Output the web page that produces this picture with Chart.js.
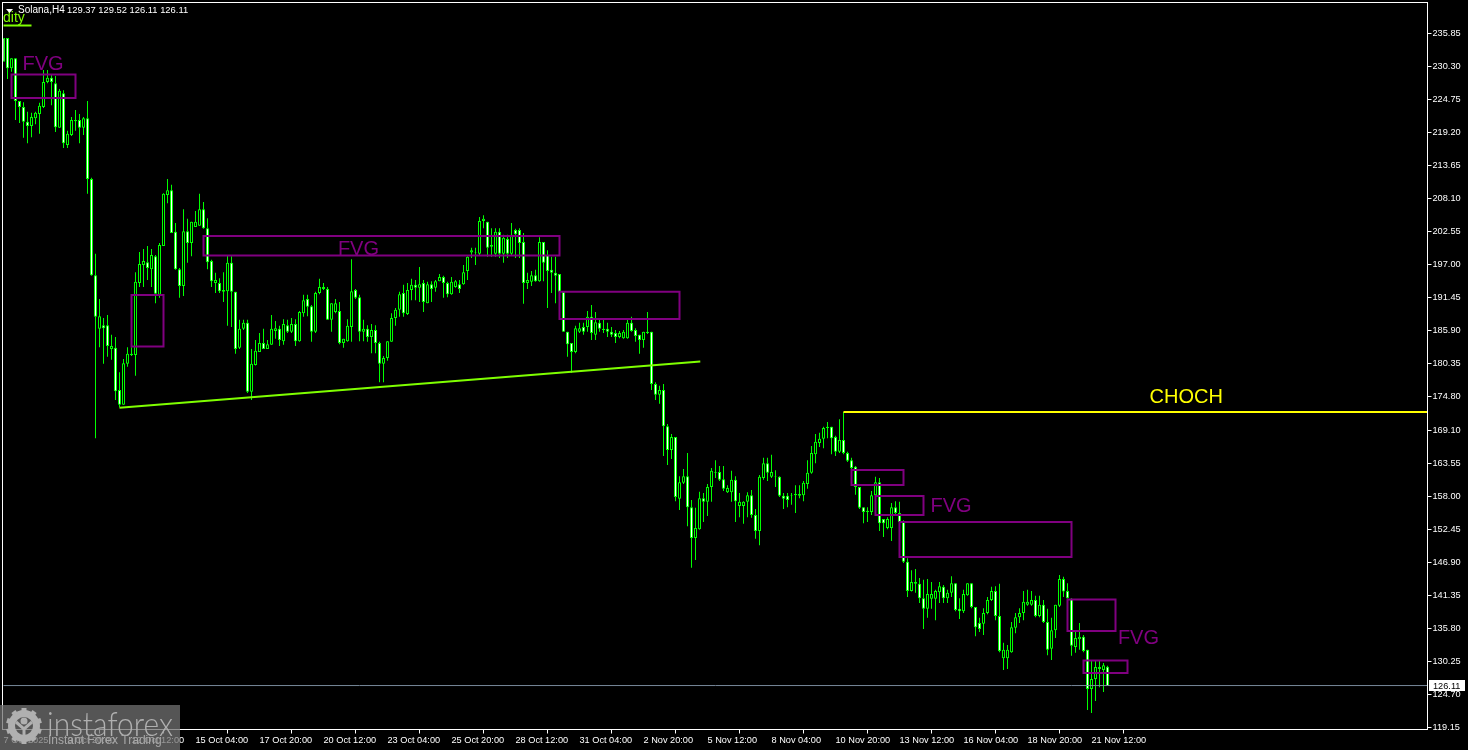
<!DOCTYPE html>
<html>
<head>
<meta charset="utf-8">
<title>Solana,H4</title>
<script src="https://cdn.jsdelivr.net/npm/chart.js@4/dist/chart.umd.min.js"></script>
<style>
  html, body { margin: 0; padding: 0; background: #000; }
  #wrap { width: 1468px; height: 750px; position: relative; }
  canvas { display: block; }
</style>
</head>
<body>
<div id="wrap"><canvas id="c-solana"></canvas></div>
<script>
// Velas H4, una por barra (4 px de paso en el eje)
const opens = [
235.1,235.1,230.0,231.7,224.5,223.5,221.0,220.3,221.6,222.3,
223.5,227.7,228.4,227.5,220.0,225.8,217.1,218.8,221.1,221.3,
220.0,221.6,211.4,195.2,186.2,186.8,186.8,182.8,183.0,175.9,
173.4,180.3,181.8,181.8,193.9,196.9,197.4,196.2,198.4,191.9,
200.1,208.7,209.5,202.5,196.2,193.4,202.6,200.6,203.3,203.5,
206.3,203.1,197.6,193.9,193.9,192.4,192.5,197.3,192.4,183.0,
186.2,187.2,175.6,180.1,182.3,183.8,182.8,183.5,185.8,186.2,
184.1,186.8,185.7,187.0,184.1,188.8,191.2,190.0,185.7,192.2,
193.2,192.9,187.7,189.0,189.2,183.8,184.1,186.5,192.7,191.5,
185.7,186.2,184.8,186.0,183.8,180.3,181.3,184.0,188.0,189.4,
192.2,188.7,192.7,193.6,193.1,193.9,190.5,193.7,193.1,194.2,
194.9,193.9,192.0,193.2,193.7,193.7,195.9,199.0,199.1,198.8,
204.3,204.2,200.0,198.8,202.5,198.8,201.3,198.8,202.8,202.8,
200.8,193.9,194.1,195.2,194.2,200.8,198.6,196.1,195.6,195.4,
192.4,185.7,183.8,182.3,185.7,186.5,186.5,188.2,185.2,187.2,
186.2,186.2,185.7,185.5,184.8,184.6,184.6,187.2,186.0,185.2,
184.3,185.5,185.7,176.9,175.1,175.9,169.8,165.8,168.0,157.6,
160.3,161.4,156.2,151.0,152.5,157.7,157.1,159.6,162.0,162.1,
160.9,158.7,158.7,160.8,156.4,156.4,157.1,158.2,154.9,152.2,
161.1,163.6,161.3,161.4,161.3,158.1,158.1,158.2,158.4,158.1,
158.2,160.1,162.0,165.1,167.0,167.7,169.5,169.7,168.0,165.5,
167.5,165.3,164.1,163.0,159.6,156.2,155.6,155.4,158.2,160.4,
154.2,152.7,152.7,156.2,155.2,153.7,147.0,142.1,143.6,143.3,
140.9,139.1,140.8,140.8,141.9,142.8,140.9,141.8,143.4,139.1,
138.7,141.4,143.4,139.4,136.7,136.6,138.4,140.6,142.1,137.9,
130.8,130.8,131.8,135.9,137.7,138.4,139.8,139.8,140.6,137.9,
139.8,136.9,132.4,135.5,139.6,144.1,142.1,140.8,132.7,134.0,
134.4,132.2,125.6,127.3,129.0,128.8,129.37
];
const highs = [
235.1,235.1,231.7,231.7,224.5,224.3,222.7,222.5,222.7,224.2,
229.7,229.7,228.9,228.7,226.5,226.3,219.5,221.8,223.0,222.3,
221.8,224.5,211.6,198.8,191.2,188.0,188.5,185.2,184.8,178.9,
181.1,183.1,183.1,195.7,199.1,199.6,200.1,199.6,198.6,200.6,
209.0,211.4,210.4,204.0,196.4,206.3,204.7,204.2,206.0,208.9,
207.5,204.8,197.8,195.6,194.7,195.7,198.6,198.4,192.4,187.7,
187.7,187.7,182.8,184.3,185.5,186.2,184.3,188.5,187.5,186.7,
187.8,187.7,188.0,187.8,189.2,191.9,191.9,190.2,192.4,194.6,
193.9,193.2,190.5,191.2,190.7,184.5,187.8,197.9,192.9,191.9,
187.7,186.8,187.0,186.8,184.0,181.6,184.1,188.8,189.7,192.4,
193.6,193.9,194.6,194.4,196.6,194.4,194.1,194.2,194.4,195.4,
195.1,194.1,194.9,194.4,194.4,196.9,198.4,199.8,199.8,205.0,
205.3,204.2,203.1,203.1,203.1,202.0,202.0,204.0,203.0,203.1,
202.3,195.6,195.9,196.1,201.6,200.8,199.4,198.3,198.3,195.4,
192.4,185.7,183.8,186.7,187.2,187.2,189.2,190.2,189.0,188.0,
187.7,187.2,186.5,186.0,185.8,186.0,187.7,188.2,186.3,185.2,
185.7,189.0,185.7,177.2,176.6,176.9,170.2,168.5,168.0,161.4,
162.6,165.3,157.4,156.1,158.8,158.6,160.1,162.8,164.1,163.1,
163.1,159.9,162.3,161.4,158.6,157.2,158.7,159.1,155.9,161.6,
164.5,164.5,165.0,162.4,161.4,158.6,158.6,158.6,159.9,159.9,
160.6,164.1,166.5,168.5,168.7,169.7,170.5,169.7,168.2,171.0,
172.2,165.5,164.5,163.1,159.6,156.2,156.2,158.9,161.3,161.1,
154.2,154.5,156.9,157.2,157.1,154.0,147.6,145.6,145.8,144.3,
144.0,144.1,143.6,142.3,143.6,143.1,142.3,144.6,143.4,140.9,
142.3,143.4,143.4,139.4,137.6,139.2,141.1,142.8,142.9,143.3,
133.4,133.0,136.9,138.4,139.2,142.1,142.3,142.1,141.3,141.3,
140.6,139.1,137.6,139.8,144.8,144.5,143.4,140.9,135.2,136.7,
134.7,132.2,130.5,130.4,130.4,130.0,129.52
];
const lows = [
231.1,228.2,229.4,221.3,220.8,218.3,217.4,218.4,220.6,219.0,
223.3,227.5,223.8,219.3,220.0,216.6,216.6,218.6,219.5,217.4,
218.8,208.9,195.1,167.8,183.1,180.3,181.5,181.0,174.2,173.0,
173.4,179.8,181.6,178.3,193.2,193.2,194.4,193.2,190.5,191.4,
200.1,207.3,202.3,196.1,191.4,191.7,197.3,198.4,203.3,203.5,
203.0,196.2,193.2,192.2,192.2,190.7,186.7,186.5,182.0,182.8,
186.0,175.4,174.2,180.0,182.3,182.8,182.8,183.5,184.5,183.3,
183.5,185.5,185.5,183.3,184.0,188.2,188.3,184.0,185.5,192.0,
192.7,187.7,185.7,188.8,183.6,183.0,184.0,184.0,191.2,184.1,
184.1,184.0,182.1,182.1,177.2,177.2,180.8,184.0,186.7,188.2,
188.2,188.5,191.0,191.0,190.7,189.0,190.5,190.7,192.4,194.2,
191.4,191.5,191.9,193.1,192.2,193.6,194.4,198.1,196.9,198.6,
203.1,198.3,198.3,198.3,198.1,197.3,198.1,198.6,198.1,198.1,
190.4,192.9,193.4,194.1,194.1,194.2,189.7,192.2,190.5,192.2,
185.7,181.5,178.8,182.1,185.5,185.2,185.7,184.3,184.3,185.7,
185.5,184.8,184.8,183.8,184.6,184.5,184.5,185.7,184.0,182.0,
183.0,185.3,175.9,174.2,173.6,164.8,163.3,164.3,157.2,155.7,
160.1,153.0,146.0,147.3,152.4,153.7,154.7,157.1,161.1,160.6,
158.9,158.6,157.1,153.7,154.5,153.4,154.5,154.4,150.9,149.8,
160.8,160.6,161.1,159.6,157.9,155.9,156.2,156.6,155.2,157.7,
157.2,159.3,161.8,163.6,166.3,166.1,167.8,165.1,164.8,165.3,
165.1,163.8,162.6,158.3,155.9,153.5,153.7,154.9,158.1,152.2,
151.2,152.5,150.5,154.9,153.5,146.8,141.1,142.0,141.8,140.1,
135.7,137.6,139.1,137.2,140.1,140.1,140.1,141.1,138.7,137.4,
138.4,141.3,139.2,134.5,135.2,134.7,138.2,140.4,137.2,131.8,
128.8,129.0,131.7,135.0,136.7,137.2,139.6,139.6,137.7,137.7,
136.7,131.3,130.5,134.2,139.4,141.1,140.8,131.2,131.7,132.2,
131.8,122.1,121.6,123.6,125.9,125.1,126.11
];
const closes = [
231.1,230.0,231.7,224.5,223.5,221.0,220.3,221.8,222.5,223.7,
227.7,228.4,227.7,220.1,226.2,217.4,219.0,221.3,221.3,220.0,
221.6,211.4,195.2,188.2,188.3,186.3,183.3,183.3,175.7,173.4,
180.4,182.0,182.0,194.1,197.1,197.6,196.4,198.6,192.1,200.3,
208.9,209.5,202.3,196.2,193.4,202.6,200.6,204.2,204.2,206.3,
203.1,197.4,194.2,194.4,192.5,192.7,197.3,192.4,182.8,186.2,
187.2,175.6,180.3,182.5,183.8,182.8,183.6,186.2,186.3,184.3,
187.0,185.7,187.0,184.1,189.0,191.0,189.9,185.7,192.2,193.2,
192.9,187.7,190.5,190.5,183.8,184.5,186.7,192.5,191.4,185.7,
186.2,184.8,186.0,183.8,180.3,181.3,184.1,188.0,189.4,192.0,
188.8,192.7,193.6,193.1,193.7,190.7,193.7,192.9,194.2,194.9,
193.9,192.0,194.1,194.2,192.9,195.7,198.3,199.4,199.0,204.3,
204.7,199.8,200.3,202.5,198.8,201.5,198.8,202.0,202.1,200.6,
193.9,194.4,195.2,194.2,200.8,197.3,195.9,195.6,195.1,192.4,
185.7,183.6,182.3,186.3,186.3,185.7,188.2,185.5,187.3,186.2,
186.0,185.7,185.2,184.8,185.5,185.7,187.2,185.8,185.0,184.3,
185.7,185.7,176.9,175.1,175.9,169.8,165.8,168.0,157.9,160.4,
161.4,156.2,151.0,152.7,157.7,157.1,159.6,162.3,162.1,160.8,
159.3,159.4,160.8,157.2,157.1,157.1,158.2,154.9,152.2,161.3,
163.6,162.0,162.1,161.3,158.1,157.6,157.4,158.1,158.2,158.4,
160.3,162.0,165.3,167.2,167.7,169.5,169.7,167.8,165.5,167.5,
165.3,164.0,162.8,159.6,156.1,155.4,155.4,158.2,160.4,153.5,
153.5,154.2,156.2,155.2,153.7,147.0,142.1,143.6,143.3,140.9,
139.1,141.6,141.6,142.1,142.9,140.9,141.8,143.4,138.9,138.7,
141.6,143.4,139.4,136.0,135.7,138.4,140.6,142.1,137.9,132.0,
132.2,132.2,136.0,137.7,138.4,140.3,140.3,140.6,137.9,139.8,
136.9,132.2,135.5,139.8,144.1,142.0,140.9,132.9,134.2,134.4,
132.0,125.6,127.3,129.3,129.3,129.6,126.11
];

// Etiquetas de los ejes (eje X: una cada 16 barras)
const timeLabels = ['7 Oct 2025','9 Oct 20:00','12 Oct 12:00','15 Oct 04:00','17 Oct 20:00','20 Oct 12:00',
  '23 Oct 04:00','25 Oct 20:00','28 Oct 12:00','31 Oct 04:00','2 Nov 20:00','5 Nov 12:00','8 Nov 04:00',
  '10 Nov 20:00','13 Nov 12:00','16 Nov 04:00','18 Nov 20:00','21 Nov 12:00'];
const priceTicks = [235.85,230.30,224.75,219.20,213.65,208.10,202.55,197.00,191.45,185.90,180.35,
  174.80,169.10,163.55,158.00,152.45,146.90,141.35,135.80,130.25,124.70,119.15];

// Cajas FVG: barra inicial, barra final, precio alto, precio bajo
const boxStart = [2,32,50,139,212,218,224,266,270];
const boxEnd = [18,40,139,169,225,230,267,278,281];
const boxTop = [228.95,191.88,201.8,192.4,162.45,158.08,153.7,140.67,130.42];
const boxBottom = [225.0,183.2,198.5,187.84,159.93,154.88,147.82,135.37,128.32];

// Lineas dibujadas a mano en el grafico
const trendBars = [29,174.2];
const trendPrices = [172.9,180.7];
const chochBars = [210,356];
const chochPrice = 172.2;
const liquidityBars = [0,7];
const liquidityPrice = 237.2;
const bidBars = [0,356];
const bidLine = 126.2;
const bidLabel = '126.11';

// Textos sobre el grafico
const noteTexts = ['FVG','FVG','FVG','FVG','CHOCH'];
const noteBars = [4.75,83.6,231.75,278.6,286.5];
const notePrices = [230.72,199.6,156.25,134.05,174.7];
const noteColors = ['#800080','#800080','#800080','#800080','#ffff00'];

const totalBars = 357;
const barLabels = Array.from({ length: totalBars }, (_, i) => String(i));

const boxDatasets = boxStart.map((start, i) => ({
  type: 'line',
  parsing: false,
  data: [
    { x: start, y: boxTop[i] }, { x: boxEnd[i], y: boxTop[i] },
    { x: boxEnd[i], y: boxBottom[i] }, { x: start, y: boxBottom[i] },
    { x: start, y: boxTop[i] }
  ],
  borderColor: '#800080',
  borderWidth: 2,
  borderJoinStyle: 'miter',
  borderCapStyle: 'square',
  pointRadius: 0,
  fill: false,
  order: 1
}));

function lineDataset(xs, ys, color, width) {
  return {
    type: 'line',
    parsing: false,
    data: xs.map((x, i) => ({ x: x, y: ys[i] })),
    borderColor: color,
    borderWidth: width,
    pointRadius: 0,
    fill: false,
    order: 0
  };
}

// Textos, marco, etiqueta de precio y marca de agua
const overlay = {
  id: 'overlay',
  afterDraw(chart) {
    const { ctx, chartArea: a, scales: { x, y } } = chart;
    ctx.save();

    // marco blanco
    ctx.strokeStyle = '#ffffff';
    ctx.lineWidth = 1;
    ctx.strokeRect(a.left - 1, a.top, a.right - a.left + 1, a.bottom - a.top);

    // notas
    ctx.textBaseline = 'middle';
    ctx.textAlign = 'left';
    ctx.font = '20px "Liberation Sans"';
    noteTexts.forEach((t, i) => {
      ctx.fillStyle = noteColors[i];
      ctx.fillText(t, x.getPixelForValue(noteBars[i]), y.getPixelForValue(notePrices[i]));
    });

    // resto del texto "Liquidity" cortado por el borde
    ctx.font = '14px "Liberation Sans"';
    ctx.fillStyle = '#7fff00';
    ctx.fillText('dity', 3, 18);

    // cabecera
    ctx.fillStyle = '#ffffff';
    ctx.beginPath();
    ctx.moveTo(6, 9); ctx.lineTo(13, 9); ctx.lineTo(9.5, 13); ctx.closePath();
    ctx.fill();
    ctx.font = '10px "Liberation Sans"';
    ctx.fillText('Solana,H4', 18, 10.5);
    ctx.font = '9.4px "Liberation Sans"';
    ctx.fillText('129.37 129.52 126.11 126.11', 67, 10.5);

    // etiqueta del precio actual
    const py = y.getPixelForValue(bidLine);
    ctx.fillStyle = '#ffffff';
    ctx.fillRect(1429, Math.round(py) - 6, 36, 11);
    ctx.fillStyle = '#000000';
    ctx.font = '9.2px "Liberation Sans"';
    ctx.fillText(bidLabel, 1433, Math.round(py));

    // marca de agua
    ctx.fillStyle = 'rgba(113,113,113,0.75)';
    ctx.fillRect(0, 705, 180, 45);
    ctx.fillStyle = '#b0b0b0';
    ctx.strokeStyle = '#b0b0b0';
    const gx = 24, gy = 726;
    ctx.lineWidth = 7;
    ctx.beginPath(); ctx.arc(gx, gy, 12.5, 0, Math.PI * 2); ctx.stroke();
    for (let i = 0; i < 10; i++) {
      const t = i * Math.PI / 5;
      ctx.save();
      ctx.translate(gx, gy);
      ctx.rotate(t);
      ctx.fillRect(-2.5, -18, 5, 5);
      ctx.restore();
    }
    ctx.beginPath(); ctx.arc(gx, gy - 5, 3.5, 0, Math.PI * 2); ctx.fill();
    ctx.lineWidth = 3;
    ctx.beginPath();
    ctx.moveTo(gx - 8, gy - 4); ctx.lineTo(gx, gy + 3); ctx.lineTo(gx + 8, gy - 4);
    ctx.moveTo(gx, gy + 2); ctx.lineTo(gx, gy + 16);
    ctx.stroke();
    ctx.font = '300 33px "Lato"';
    ctx.fillText('instaforex', 47, 725, 126);
    ctx.font = '12px "Liberation Sans"';
    ctx.fillStyle = '#a8a8a8';
    ctx.fillText('Instant Forex Trading', 48, 741);

    ctx.restore();
  }
};

const ctxSol = document.getElementById('c-solana').getContext('2d');
new Chart(ctxSol, {
  type: 'bar',
  plugins: [overlay],
  data: {
    labels: barLabels,
    datasets: [
      lineDataset(bidBars, [bidLine, bidLine], '#778899', 1),
      lineDataset(trendBars, trendPrices, '#7fff00', 2),
      lineDataset(chochBars, [chochPrice, chochPrice], '#ffff00', 2),
      lineDataset(liquidityBars, [liquidityPrice, liquidityPrice], '#7fff00', 2),
      ...boxDatasets,
      {
        // cuerpos: blanco bajista, negro alcista
        data: opens.map((o, i) => [o, closes[i]]),
        barThickness: 3,
        grouped: false,
        borderWidth: 1,
        borderSkipped: false,
        inflateAmount: 0,
        borderColor: '#00ff00',
        backgroundColor: c => closes[c.dataIndex] > opens[c.dataIndex] ? '#000000' : '#ffffff',
        order: 2
      },
      {
        // mechas
        data: lows.map((l, i) => [l, highs[i]]),
        barThickness: 1,
        grouped: false,
        borderWidth: 0,
        inflateAmount: 0,
        backgroundColor: '#00ff00',
        order: 3
      }
    ]
  },
  options: {
    responsive: true,
    maintainAspectRatio: false,
    animation: false,
    events: [],
    layout: { padding: { left: 3.5, top: 2.5, right: 0, bottom: 0 } },
    plugins: { legend: { display: false }, tooltip: { enabled: false } },
    scales: {
      x: {
        offset: false,
        border: { display: false },
        grid: { drawOnChartArea: false, color: '#ffffff', tickLength: 4 },
        afterBuildTicks: s => { s.ticks = s.ticks.filter(t => t.value % 16 === 0 && t.value / 16 < timeLabels.length); },
        afterFit: s => { s.height = 20.5; s.paddingLeft = 0; s.paddingRight = 0; },
        ticks: {
          autoSkip: false,
          maxRotation: 0,
          align: 'start',
          labelOffset: 0,
          padding: 1,
          color: '#ffffff',
          font: { family: '"Liberation Sans"', size: 9.2 },
          callback: v => timeLabels[v / 16]
        }
      },
      y: {
        position: 'right',
        min: 118.81,
        max: 241.06,
        border: { display: false },
        grid: { drawOnChartArea: false, color: '#ffffff', tickLength: 4 },
        afterBuildTicks: s => { s.ticks = priceTicks.map(v => ({ value: v })); },
        afterFit: s => { s.width = 40.5; s.paddingTop = 0; s.paddingBottom = 0; },
        ticks: {
          autoSkip: false,
          padding: 1,
          color: '#ffffff',
          font: { family: '"Liberation Sans"', size: 9.2 },
          callback: v => v.toFixed(2)
        }
      }
    }
  }
});
</script>
</body>
</html>
